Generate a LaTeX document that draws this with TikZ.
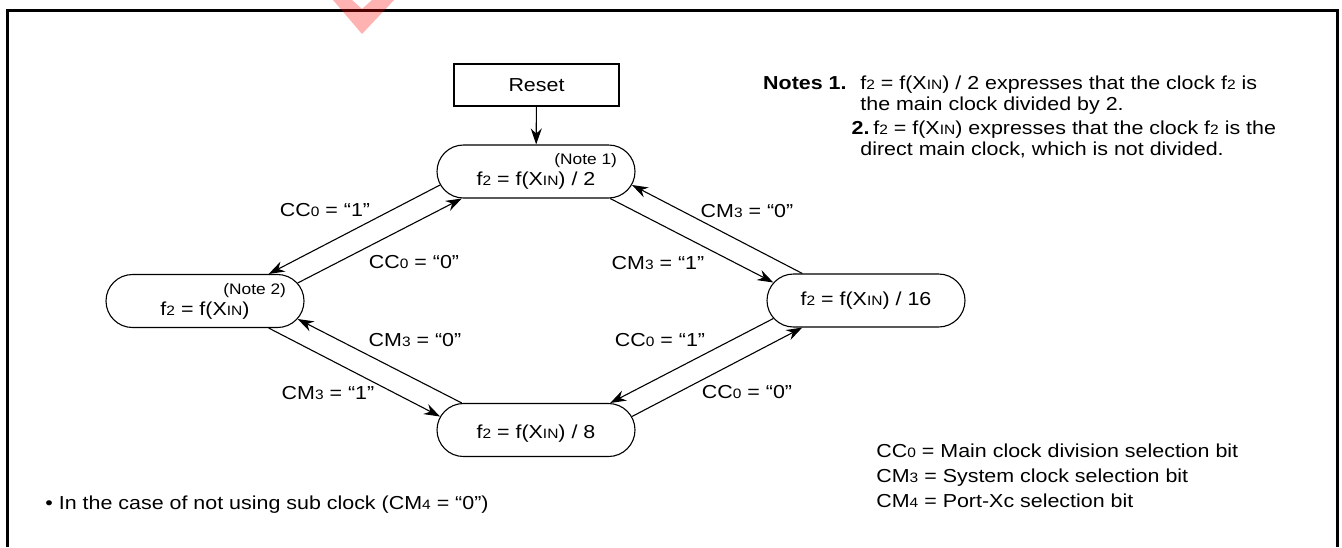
\documentclass[tikz,border=0pt]{standalone}
\usepackage{fontspec}
\setmainfont[FakeStretch=1.14]{Liberation Sans}
\usetikzlibrary{arrows.meta,shapes.misc}
\newcommand{\smsub}[1]{{\fontsize{6.8pt}{8pt}\selectfont #1}}
\newcommand{\ftwo}{f\smsub{2}}
\newcommand{\xin}{X\smsub{IN}}
\newcommand{\noteref}[1]{\makebox[81pt][r]{\fontsize{7.6pt}{9pt}\selectfont (Note #1)}}

\begin{document}
\begin{tikzpicture}[x=0.5pt,y=-0.5pt,>={Stealth[length=8pt,width=5.5pt]},
  txt/.style={inner sep=0pt,font=\fontsize{9.4pt}{10.5pt}\selectfont},
  state/.style={txt,draw,line width=0.55pt,rounded rectangle,minimum width=99pt,minimum height=26.5pt,align=center},
  resetbox/.style={txt,draw,line width=0.55pt,minimum width=82.5pt,minimum height=21pt},
  conn/.style={->,line width=0.55pt}]
\useasboundingbox (0,0) rectangle (1342,547);
\draw[line width=1.2pt] (7.5,547) |- (1337.5,10.5) -- (1337.5,547);
\fill[red,opacity=0.3] (333,0) -- (352,0) -- (362,9) -- (372,0) -- (394,0) -- (362,34) -- cycle;

\node[resetbox] (reset) at (536.5,85) {Reset};
\node[state] (div2) at (536,171.5) {\noteref{1}\\\ftwo{} = f(\xin) / 2};
\node[state] (nodiv) at (205,301) {\noteref{2}\\\ftwo{} = f(\xin)};
\node[state] (div16) at (866,300.5) {\ftwo{} = f(\xin) / 16};
\node[state] (div8) at (536,430) {\mbox{}\\\ftwo{} = f(\xin) / 8};

\draw[conn] (reset) -- (div2);
\draw[conn] (div2.188) -- (nodiv.23);
\draw[conn] (nodiv.11) -- (div2.200);
\draw[conn] (div2.340) -- (div16.169);
\draw[conn] (div16.157) -- (div2.352);
\draw[conn] (div16.191) -- (div8.20);
\draw[conn] (div8.8) -- (div16.203);
\draw[conn] (div8.160) -- (nodiv.349);
\draw[conn] (nodiv.337) -- (div8.172);

\node[txt] (cc1a) at (325,210) {CC\smsub{0} = “1”};
\node[txt] (cc0a) at (414,262) {CC\smsub{0} = “0”};
\node[txt] (cm0a) at (747,211) {CM\smsub{3} = “0”};
\node[txt] (cm1a) at (658,263) {CM\smsub{3} = “1”};
\node[txt] (cc1b) at (660,340) {CC\smsub{0} = “1”};
\node[txt] (cc0b) at (747,392) {CC\smsub{0} = “0”};
\node[txt] (cm0b) at (415,340) {CM\smsub{3} = “0”};
\node[txt] (cm1b) at (328,393) {CM\smsub{3} = “1”};

\node[txt,anchor=base east] (notes1) at (847,89) {\textbf{Notes 1.}};
\node[txt,anchor=base west] (note1a) at (860,89) {\ftwo{} = f(\xin) / 2 expresses that the clock \ftwo{} is};
\node[txt,anchor=base west] (note1b) at (860,110) {the main clock divided by 2.};
\node[txt,anchor=base east] (notes2) at (870,134) {\textbf{2.}};
\node[txt,anchor=base west] (note2a) at (873,134) {\ftwo{} = f(\xin) expresses that the clock \ftwo{} is the};
\node[txt,anchor=base west] (note2b) at (860,155) {direct main clock, which is not divided.};

\node[txt,anchor=base west] (bitcc) at (876,457) {CC\smsub{0} = Main clock division selection bit};
\node[txt,anchor=base west] (bitcm3) at (876,482) {CM\smsub{3} = System clock selection bit};
\node[txt,anchor=base west] (bitcm4) at (876,507) {CM\smsub{4} = Port-Xc selection bit};
\node[txt,anchor=base west] (subclk) at (45,509) {• In the case of not using sub clock (CM\smsub{4} = “0”)};
\end{tikzpicture}
\end{document}
